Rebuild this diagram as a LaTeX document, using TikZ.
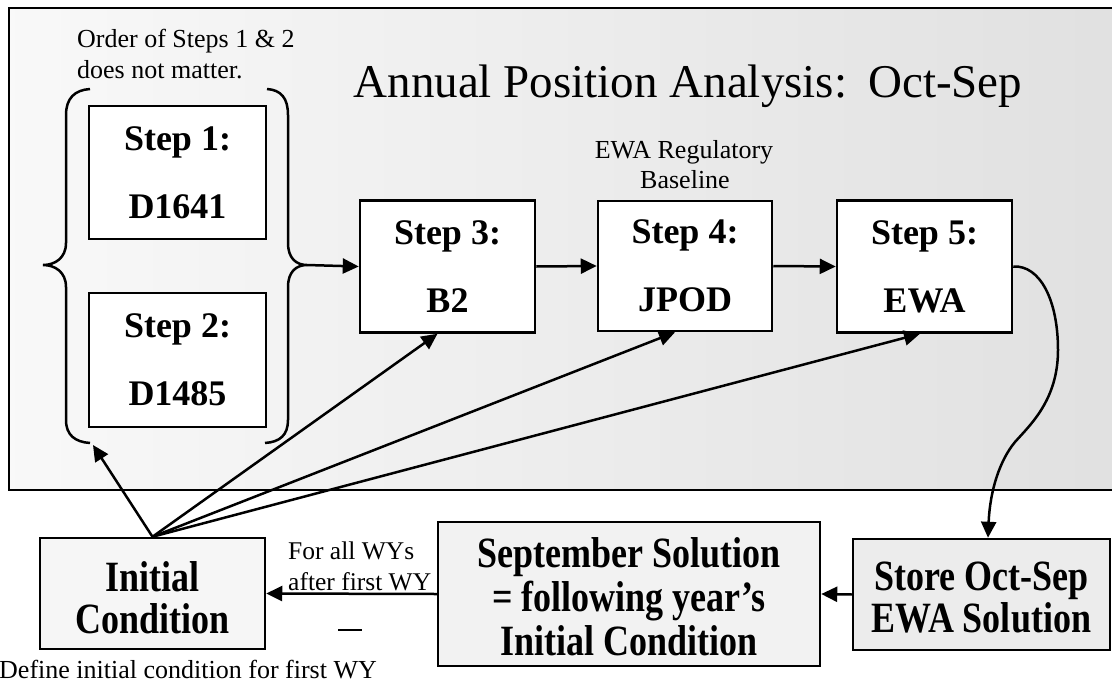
\documentclass[tikz,border=0pt]{standalone}
\usepackage{fontspec}
\setmainfont{Liberation Serif}
\usetikzlibrary{arrows.meta,calc}
\newcommand\vstretch[2]{\raisebox{#1}[\height][\depth]{\scalebox{1}[1.2]{\begin{tabular}{@{}c@{}}#2\end{tabular}}}}
\begin{document}
\begin{tikzpicture}[x=1pt,y=-1pt,
  stepbox/.style={draw, line width=2.5pt, fill=white, inner sep=0pt, align=center,
    font=\bfseries\fontsize{36}{68}\selectfont},
  lowbox/.style={draw, line width=2.5pt, inner sep=0pt,
    font=\bfseries\fontsize{36}{34}\selectfont},
  lbl/.style={inner sep=0pt, font=\fontsize{26}{31}\selectfont},
  conn/.style={line width=2.5pt, -{Triangle[length=16pt,width=15pt]}},
  brace/.style={line width=2.5pt}
]
\useasboundingbox (0,0) rectangle (1112,686);
\clip (0,0) rectangle (1112,686);

% outer frame
\fill[left color=gray!5, right color=gray!24] (9,8) rectangle (1125,490);
\draw[line width=2.5pt] (1125,8) -- (9,8) -- (9,490) -- (1125,490);

% title and notes
\node[inner sep=0pt, anchor=base, font=\fontsize{47}{50}\selectfont] (title) at (688,97)
  {Annual Position Analysis:\hspace{0.45em}Oct-Sep};
\node[lbl, anchor=base west] (note1) at (77,47) {Order of Steps 1 \& 2};
\node[lbl, anchor=base west] (note2) at (77,78) {does not matter.};
\node[lbl, anchor=base] (ewa1) at (684,158) {EWA Regulatory};
\node[lbl, anchor=base] (ewa2) at (685,188) {Baseline};

% braces
\draw[brace] (90,89) .. controls (75,90) and (66,98) .. (66,115) -- (66,243)
  .. controls (66,258) and (55,265) .. (43,265)
  .. controls (55,265) and (66,272) .. (66,287) -- (66,420)
  .. controls (66,435) and (75,442) .. (90,443);
\draw[brace] (267,89) .. controls (281,90) and (288,98) .. (288,115) -- (288,243)
  .. controls (288,258) and (296,265) .. (307,265)
  .. controls (296,265) and (288,272) .. (288,287) -- (288,420)
  .. controls (288,435) and (280,442) .. (265,443);
\coordinate (rbtip) at (307,265);
\coordinate (lbbot) at (93,445);

% step boxes
\node[stepbox, minimum width=177pt, minimum height=133pt] (s1) at (177.5,172.5) {Step 1:\\D1641};
\node[stepbox, minimum width=177pt, minimum height=134pt] (s2) at (177.5,360) {Step 2:\\D1485};
\node[stepbox, minimum width=175pt, minimum height=132pt] (s3) at (447.5,266.5) {Step 3:\\B2};
\node[stepbox, minimum width=174pt, minimum height=130pt] (s4) at (685,266) {Step 4:\\JPOD};
\node[stepbox, minimum width=175pt, minimum height=132pt] (s5) at (924.5,266.5) {Step 5:\\EWA};

% bottom boxes
\node[lowbox, fill=gray!7, minimum width=225pt, minimum height=111pt] (init) at (152.5,593.5)
  {\vstretch{-10pt}{Initial\\Condition}};
\node[lowbox, fill=gray!10, minimum width=382pt, minimum height=144pt] (sept) at (629,594)
  {\fontsize{36}{36.7}\selectfont\vstretch{-8.6pt}{September Solution\\= following year’s\\Initial Condition}};
\node[lowbox, fill=gray!15, minimum width=257pt, minimum height=111pt] (store) at (981.5,594.5)
  {\vstretch{-9pt}{Store Oct-Sep\\EWA Solution}};

% bottom labels
\node[inner sep=0pt, anchor=base west, font=\fontsize{25.5}{30}\selectfont] (wy1) at (288,559) {For all WYs};
\node[inner sep=0pt, anchor=base west, font=\fontsize{25.5}{30}\selectfont] (wy2) at (288,590) {after first WY};
\node[lbl, anchor=base west] (define) at (-1,678) {Define initial condition for first WY};
\draw[line width=2pt] (338,630) -- (362,630);

% connectors
\draw[conn] (rbtip) -- (s3.west);
\draw[conn] (s3.east) -- (s4.west);
\draw[conn] (s4.east) -- (s5.west);
\draw[conn] (init.north) -- (lbbot);
\draw[conn] (init.north) -- ($(s3.south)+(-10,0)$);
\draw[conn] (init.north) -- ($(s4.south)+(-10,0)$);
\draw[conn] (init.north) -- ($(s5.south)+(-4.5,0)$);
\draw[conn] (s5.east) .. controls (1040,265) and (1058,300) .. (1058,350)
  .. controls (1058,400) and (1030,425) .. (1015,442)
  .. controls (1000,460) and (990,490) .. ($(store.north)+(6.5,0)$);
\draw[conn] (store.west) -- (sept.east);
\draw[conn] (sept.west) -- (init.east);
\end{tikzpicture}
\end{document}
